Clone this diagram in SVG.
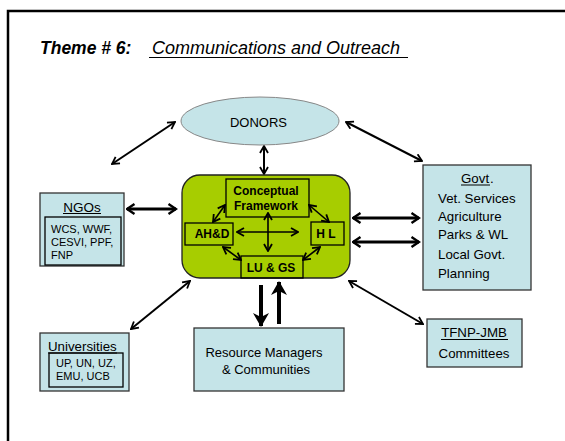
<svg xmlns="http://www.w3.org/2000/svg" width="565" height="441" viewBox="0 0 565 441">
<style>
text{font-family:"Liberation Sans",Arial,sans-serif;fill:#000}
.box{fill:#c5e4e8;stroke:#333;stroke-width:1.3}
.inner{fill:none;stroke:#000;stroke-width:1.3}
.cbox{fill:none;stroke:#000;stroke-width:1.3}
.lbl{font-size:13.3px}
.sm{font-size:11px}
.b{font-size:12px;font-weight:bold}
.ln{stroke:#000;stroke-width:2;fill:none;marker-start:url(#oh);marker-end:url(#oh)}
.tk{stroke:#000;stroke-width:3.2;fill:none;marker-start:url(#ohk);marker-end:url(#ohk)}
.ul{stroke:#000;stroke-width:1}
</style>
<defs>
<marker id="oh" markerUnits="userSpaceOnUse" viewBox="0 0 10 10" markerWidth="10" markerHeight="10" refX="9" refY="5" orient="auto-start-reverse">
<path d="M2,1 L9,5 L2,9" fill="none" stroke="#000" stroke-width="1.8"/>
</marker>
<marker id="ohk" markerUnits="userSpaceOnUse" viewBox="0 0 12 12" markerWidth="12" markerHeight="12" refX="10.5" refY="6" orient="auto-start-reverse">
<path d="M3,1 L10.5,6 L3,11" fill="none" stroke="#000" stroke-width="2.4"/>
</marker>
<marker id="fh" markerUnits="userSpaceOnUse" viewBox="0 0 14 16" markerWidth="14" markerHeight="16" refX="13" refY="8" orient="auto">
<path d="M0,0 L14,8 L0,16 L4,8 z" fill="#000"/>
</marker>
</defs>
<rect x="8" y="11" width="620" height="500" fill="#fff" stroke="#000" stroke-width="2.5"/>
<g id="title">
<text x="40" y="54" font-size="17.5" font-weight="bold" font-style="italic">Theme # 6:</text>
<text x="152" y="54" font-size="18" font-style="italic">Communications and Outreach</text>
<line class="ul" x1="149" y1="57.5" x2="408" y2="57.5" stroke-width="1.2"/>
</g>
<g id="connectors">
<line class="ln" x1="112" y1="164" x2="175" y2="122"/>
<line class="ln" x1="346" y1="122" x2="422" y2="161"/>
<line class="ln" x1="264" y1="146" x2="264" y2="174"/>
<line class="tk" x1="127" y1="209" x2="176" y2="209"/>
<line class="tk" x1="353" y1="218" x2="419" y2="218"/>
<line class="tk" x1="353" y1="242" x2="419" y2="242"/>
<line class="ln" x1="131" y1="329" x2="190" y2="281"/>
<line class="ln" x1="349" y1="281" x2="423" y2="324"/>
<line stroke="#000" stroke-width="4" x1="261" y1="285" x2="261" y2="326" marker-end="url(#fh)"/>
<line stroke="#000" stroke-width="4" x1="279" y1="324" x2="279" y2="282" marker-end="url(#fh)"/>
</g>
<g id="donors">
<ellipse cx="260" cy="121" rx="79" ry="24" fill="#c5e4e8" stroke="#888" stroke-width="1"/>
<text x="258.5" y="126.5" text-anchor="middle" font-size="13">DONORS</text>
</g>
<g id="center">
<rect x="182" y="175" width="168" height="103" rx="18" ry="18" fill="#a7cd00" stroke="#222" stroke-width="1.3"/>
<g id="cf">
<rect class="cbox" x="226" y="179" width="83" height="38"/>
<text class="b" x="266" y="195" text-anchor="middle">Conceptual</text>
<text class="b" x="266" y="210" text-anchor="middle">Framework</text>
</g>
<g id="ahd">
<rect class="cbox" x="185" y="223" width="48" height="22"/>
<text class="b" x="212" y="237.5" text-anchor="middle">AH&amp;D</text>
</g>
<g id="hl">
<rect class="cbox" x="311" y="222" width="33" height="23"/>
<text class="b" x="326" y="237.5" text-anchor="middle">H L</text>
</g>
<g id="lugs">
<rect class="cbox" x="241" y="256" width="62" height="22"/>
<text class="b" x="271" y="272" text-anchor="middle">LU &amp; GS</text>
</g>
<g id="inner-connectors">
<line class="ln" style="stroke-width:1.6" x1="237" y1="232" x2="298" y2="232"/>
<line class="ln" style="stroke-width:1.6" x1="268" y1="213" x2="268" y2="251"/>
<line class="ln" style="stroke-width:1.6" x1="225" y1="205" x2="213" y2="222"/>
<line class="ln" style="stroke-width:1.6" x1="309" y1="205" x2="329" y2="222"/>
<line class="ln" style="stroke-width:1.6" x1="223" y1="247" x2="241" y2="260"/>
<line class="ln" style="stroke-width:1.6" x1="320" y1="247" x2="303" y2="260"/>
</g>
</g>
<g id="ngos">
<rect class="box" x="40" y="193" width="84" height="73"/>
<rect class="inner" x="45" y="217" width="76" height="48"/>
<text x="82" y="211.5" text-anchor="middle" font-size="13.5">NGOs</text>
<line class="ul" x1="63" y1="213.5" x2="101" y2="213.5"/>
<text class="sm" x="51" y="233">WCS, WWF,</text>
<text class="sm" x="51" y="246">CESVI, PPF,</text>
<text class="sm" x="51" y="259">FNP</text>
</g>
<g id="govt">
<rect class="box" x="423" y="165" width="108" height="125"/>
<text class="lbl" x="461" y="183">Govt</text>
<line class="ul" x1="461" y1="185" x2="490" y2="185"/>
<text class="lbl" x="490" y="183">.</text>
<text class="lbl" x="438" y="203">Vet. Services</text>
<text class="lbl" x="438" y="221">Agriculture</text>
<text class="lbl" x="438" y="239">Parks &amp; WL</text>
<text class="lbl" x="438" y="259">Local Govt.</text>
<text class="lbl" x="438" y="278">Planning</text>
</g>
<g id="universities">
<rect class="box" x="40" y="333" width="89" height="58"/>
<text class="lbl" x="48" y="351">Universities</text>
<line class="ul" x1="48" y1="353" x2="117" y2="353"/>
<rect class="inner" x="49" y="353" width="74" height="34"/>
<text class="sm" x="56" y="367">UP, UN, UZ,</text>
<text class="sm" x="56" y="380">EMU, UCB</text>
</g>
<g id="resource">
<rect class="box" x="194" y="328" width="150" height="63"/>
<text x="264" y="357" text-anchor="middle" font-size="13">Resource Managers</text>
<text x="266" y="374" text-anchor="middle" font-size="13">&amp; Communities</text>
</g>
<g id="tfnp">
<rect class="box" x="427" y="319" width="95" height="48"/>
<text class="lbl" x="474" y="337" text-anchor="middle">TFNP-JMB</text>
<line class="ul" x1="441" y1="339.5" x2="508" y2="339.5"/>
<text class="lbl" x="474" y="358" text-anchor="middle">Committees</text>
</g>
</svg>
